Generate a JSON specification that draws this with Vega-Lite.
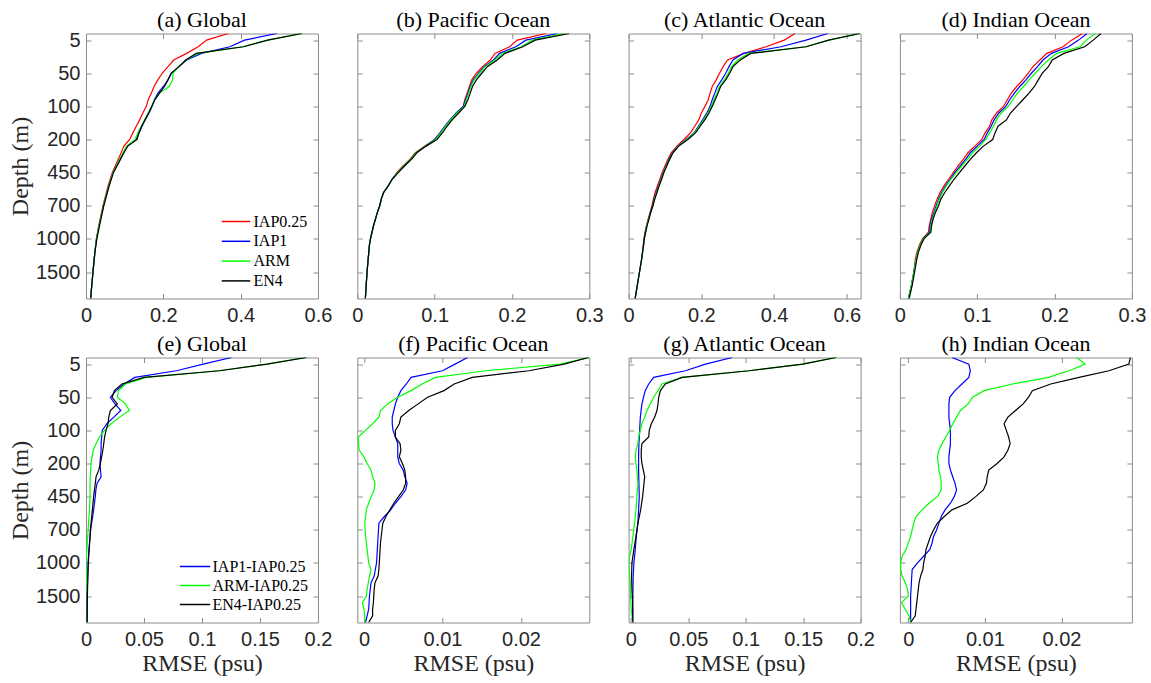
{
"$schema": "https://vega.github.io/schema/vega-lite/v6.json",
"background": "white",
"padding": {"left": 8, "top": 7.5, "right": 0, "bottom": 3},
"data": {"values": [
{"p":"a","s":"IAP0.25","l":1,"v":0.368},{"p":"a","s":"IAP0.25","l":2,"v":0.312},{"p":"a","s":"IAP0.25","l":3,"v":0.29},{"p":"a","s":"IAP0.25","l":4,"v":0.26},{"p":"a","s":"IAP0.25","l":5,"v":0.227},{"p":"a","s":"IAP0.25","l":6,"v":0.212},{"p":"a","s":"IAP0.25","l":7,"v":0.197},{"p":"a","s":"IAP0.25","l":8,"v":0.186},{"p":"a","s":"IAP0.25","l":9,"v":0.176},{"p":"a","s":"IAP0.25","l":10,"v":0.169},{"p":"a","s":"IAP0.25","l":11,"v":0.161},{"p":"a","s":"IAP0.25","l":12,"v":0.156},{"p":"a","s":"IAP0.25","l":13,"v":0.147},{"p":"a","s":"IAP0.25","l":14,"v":0.139},{"p":"a","s":"IAP0.25","l":15,"v":0.13},{"p":"a","s":"IAP0.25","l":16,"v":0.121},{"p":"a","s":"IAP0.25","l":17,"v":0.113},{"p":"a","s":"IAP0.25","l":18,"v":0.098},{"p":"a","s":"IAP0.25","l":19,"v":0.091},{"p":"a","s":"IAP0.25","l":20,"v":0.083},{"p":"a","s":"IAP0.25","l":22,"v":0.068},{"p":"a","s":"IAP0.25","l":24,"v":0.057},{"p":"a","s":"IAP0.25","l":27,"v":0.044},{"p":"a","s":"IAP0.25","l":30,"v":0.033},{"p":"a","s":"IAP0.25","l":32,"v":0.027},{"p":"a","s":"IAP0.25","l":34,"v":0.023},{"p":"a","s":"IAP0.25","l":37,"v":0.018},{"p":"a","s":"IAP0.25","l":39,"v":0.015},{"p":"a","s":"IAP0.25","l":41,"v":0.012},
{"p":"a","s":"IAP1","l":1,"v":0.494},{"p":"a","s":"IAP1","l":2,"v":0.41},{"p":"a","s":"IAP1","l":3,"v":0.372},{"p":"a","s":"IAP1","l":4,"v":0.299},{"p":"a","s":"IAP1","l":5,"v":0.26},{"p":"a","s":"IAP1","l":6,"v":0.241},{"p":"a","s":"IAP1","l":7,"v":0.221},{"p":"a","s":"IAP1","l":8,"v":0.212},{"p":"a","s":"IAP1","l":9,"v":0.2},{"p":"a","s":"IAP1","l":10,"v":0.186},{"p":"a","s":"IAP1","l":11,"v":0.177},{"p":"a","s":"IAP1","l":12,"v":0.171},{"p":"a","s":"IAP1","l":13,"v":0.163},{"p":"a","s":"IAP1","l":14,"v":0.153},{"p":"a","s":"IAP1","l":15,"v":0.145},{"p":"a","s":"IAP1","l":16,"v":0.137},{"p":"a","s":"IAP1","l":17,"v":0.13},{"p":"a","s":"IAP1","l":18,"v":0.107},{"p":"a","s":"IAP1","l":19,"v":0.097},{"p":"a","s":"IAP1","l":20,"v":0.088},{"p":"a","s":"IAP1","l":22,"v":0.07},{"p":"a","s":"IAP1","l":24,"v":0.059},{"p":"a","s":"IAP1","l":27,"v":0.045},{"p":"a","s":"IAP1","l":30,"v":0.034},{"p":"a","s":"IAP1","l":32,"v":0.027},{"p":"a","s":"IAP1","l":34,"v":0.023},{"p":"a","s":"IAP1","l":37,"v":0.018},{"p":"a","s":"IAP1","l":39,"v":0.015},{"p":"a","s":"IAP1","l":41,"v":0.012},
{"p":"a","s":"ARM","l":1,"v":0.558},{"p":"a","s":"ARM","l":2,"v":0.47},{"p":"a","s":"ARM","l":3,"v":0.405},{"p":"a","s":"ARM","l":4,"v":0.29},{"p":"a","s":"ARM","l":5,"v":0.258},{"p":"a","s":"ARM","l":6,"v":0.24},{"p":"a","s":"ARM","l":7,"v":0.225},{"p":"a","s":"ARM","l":8,"v":0.224},{"p":"a","s":"ARM","l":9,"v":0.215},{"p":"a","s":"ARM","l":10,"v":0.19},{"p":"a","s":"ARM","l":11,"v":0.178},{"p":"a","s":"ARM","l":12,"v":0.17},{"p":"a","s":"ARM","l":13,"v":0.161},{"p":"a","s":"ARM","l":14,"v":0.152},{"p":"a","s":"ARM","l":15,"v":0.143},{"p":"a","s":"ARM","l":16,"v":0.134},{"p":"a","s":"ARM","l":17,"v":0.127},{"p":"a","s":"ARM","l":18,"v":0.105},{"p":"a","s":"ARM","l":19,"v":0.096},{"p":"a","s":"ARM","l":20,"v":0.087},{"p":"a","s":"ARM","l":22,"v":0.07},{"p":"a","s":"ARM","l":24,"v":0.059},{"p":"a","s":"ARM","l":27,"v":0.045},{"p":"a","s":"ARM","l":30,"v":0.034},{"p":"a","s":"ARM","l":32,"v":0.027},{"p":"a","s":"ARM","l":34,"v":0.023},{"p":"a","s":"ARM","l":37,"v":0.018},{"p":"a","s":"ARM","l":39,"v":0.015},{"p":"a","s":"ARM","l":41,"v":0.012},
{"p":"a","s":"EN4","l":1,"v":0.558},{"p":"a","s":"EN4","l":2,"v":0.47},{"p":"a","s":"EN4","l":3,"v":0.407},{"p":"a","s":"EN4","l":4,"v":0.285},{"p":"a","s":"EN4","l":5,"v":0.258},{"p":"a","s":"EN4","l":6,"v":0.24},{"p":"a","s":"EN4","l":7,"v":0.22},{"p":"a","s":"EN4","l":8,"v":0.212},{"p":"a","s":"EN4","l":9,"v":0.203},{"p":"a","s":"EN4","l":10,"v":0.19},{"p":"a","s":"EN4","l":11,"v":0.178},{"p":"a","s":"EN4","l":12,"v":0.17},{"p":"a","s":"EN4","l":13,"v":0.162},{"p":"a","s":"EN4","l":14,"v":0.153},{"p":"a","s":"EN4","l":15,"v":0.144},{"p":"a","s":"EN4","l":16,"v":0.137},{"p":"a","s":"EN4","l":17,"v":0.132},{"p":"a","s":"EN4","l":18,"v":0.108},{"p":"a","s":"EN4","l":19,"v":0.098},{"p":"a","s":"EN4","l":20,"v":0.089},{"p":"a","s":"EN4","l":22,"v":0.071},{"p":"a","s":"EN4","l":24,"v":0.06},{"p":"a","s":"EN4","l":27,"v":0.046},{"p":"a","s":"EN4","l":30,"v":0.035},{"p":"a","s":"EN4","l":32,"v":0.028},{"p":"a","s":"EN4","l":34,"v":0.023},{"p":"a","s":"EN4","l":37,"v":0.018},{"p":"a","s":"EN4","l":39,"v":0.015},{"p":"a","s":"EN4","l":41,"v":0.012},

{"p":"b","s":"IAP0.25","l":1,"v":0.244},{"p":"b","s":"IAP0.25","l":2,"v":0.207},{"p":"b","s":"IAP0.25","l":3,"v":0.197},{"p":"b","s":"IAP0.25","l":4,"v":0.178},{"p":"b","s":"IAP0.25","l":5,"v":0.172},{"p":"b","s":"IAP0.25","l":6,"v":0.162},{"p":"b","s":"IAP0.25","l":7,"v":0.154},{"p":"b","s":"IAP0.25","l":8,"v":0.148},{"p":"b","s":"IAP0.25","l":9,"v":0.145},{"p":"b","s":"IAP0.25","l":10,"v":0.142},{"p":"b","s":"IAP0.25","l":11,"v":0.139},{"p":"b","s":"IAP0.25","l":12,"v":0.137},{"p":"b","s":"IAP0.25","l":13,"v":0.128},{"p":"b","s":"IAP0.25","l":14,"v":0.121},{"p":"b","s":"IAP0.25","l":15,"v":0.114},{"p":"b","s":"IAP0.25","l":16,"v":0.107},{"p":"b","s":"IAP0.25","l":17,"v":0.1},{"p":"b","s":"IAP0.25","l":18,"v":0.087},{"p":"b","s":"IAP0.25","l":19,"v":0.075},{"p":"b","s":"IAP0.25","l":20,"v":0.068},{"p":"b","s":"IAP0.25","l":21,"v":0.059},{"p":"b","s":"IAP0.25","l":22,"v":0.051},{"p":"b","s":"IAP0.25","l":23,"v":0.045},{"p":"b","s":"IAP0.25","l":24,"v":0.04},{"p":"b","s":"IAP0.25","l":25,"v":0.034},{"p":"b","s":"IAP0.25","l":26,"v":0.031},{"p":"b","s":"IAP0.25","l":27,"v":0.029},{"p":"b","s":"IAP0.25","l":28,"v":0.026},{"p":"b","s":"IAP0.25","l":30,"v":0.021},{"p":"b","s":"IAP0.25","l":32,"v":0.017},{"p":"b","s":"IAP0.25","l":33,"v":0.0156},{"p":"b","s":"IAP0.25","l":37,"v":0.0126},{"p":"b","s":"IAP0.25","l":41,"v":0.0104},
{"p":"b","s":"IAP1","l":1,"v":0.259},{"p":"b","s":"IAP1","l":2,"v":0.218},{"p":"b","s":"IAP1","l":3,"v":0.205},{"p":"b","s":"IAP1","l":4,"v":0.184},{"p":"b","s":"IAP1","l":5,"v":0.176},{"p":"b","s":"IAP1","l":6,"v":0.164},{"p":"b","s":"IAP1","l":7,"v":0.157},{"p":"b","s":"IAP1","l":8,"v":0.15},{"p":"b","s":"IAP1","l":9,"v":0.146},{"p":"b","s":"IAP1","l":10,"v":0.143},{"p":"b","s":"IAP1","l":11,"v":0.14},{"p":"b","s":"IAP1","l":12,"v":0.137},{"p":"b","s":"IAP1","l":13,"v":0.128},{"p":"b","s":"IAP1","l":14,"v":0.12},{"p":"b","s":"IAP1","l":15,"v":0.113},{"p":"b","s":"IAP1","l":16,"v":0.107},{"p":"b","s":"IAP1","l":17,"v":0.1},{"p":"b","s":"IAP1","l":18,"v":0.088},{"p":"b","s":"IAP1","l":19,"v":0.076},{"p":"b","s":"IAP1","l":20,"v":0.069},{"p":"b","s":"IAP1","l":21,"v":0.06},{"p":"b","s":"IAP1","l":22,"v":0.052},{"p":"b","s":"IAP1","l":23,"v":0.045},{"p":"b","s":"IAP1","l":24,"v":0.04},{"p":"b","s":"IAP1","l":25,"v":0.034},{"p":"b","s":"IAP1","l":26,"v":0.031},{"p":"b","s":"IAP1","l":27,"v":0.029},{"p":"b","s":"IAP1","l":28,"v":0.026},{"p":"b","s":"IAP1","l":30,"v":0.021},{"p":"b","s":"IAP1","l":32,"v":0.017},{"p":"b","s":"IAP1","l":33,"v":0.0156},{"p":"b","s":"IAP1","l":37,"v":0.0126},{"p":"b","s":"IAP1","l":41,"v":0.0104},
{"p":"b","s":"ARM","l":1,"v":0.268},{"p":"b","s":"ARM","l":2,"v":0.226},{"p":"b","s":"ARM","l":3,"v":0.212},{"p":"b","s":"ARM","l":4,"v":0.188},{"p":"b","s":"ARM","l":5,"v":0.178},{"p":"b","s":"ARM","l":6,"v":0.165},{"p":"b","s":"ARM","l":7,"v":0.158},{"p":"b","s":"ARM","l":8,"v":0.151},{"p":"b","s":"ARM","l":9,"v":0.147},{"p":"b","s":"ARM","l":10,"v":0.144},{"p":"b","s":"ARM","l":11,"v":0.141},{"p":"b","s":"ARM","l":12,"v":0.138},{"p":"b","s":"ARM","l":13,"v":0.129},{"p":"b","s":"ARM","l":14,"v":0.121},{"p":"b","s":"ARM","l":15,"v":0.114},{"p":"b","s":"ARM","l":16,"v":0.108},{"p":"b","s":"ARM","l":17,"v":0.101},{"p":"b","s":"ARM","l":18,"v":0.088},{"p":"b","s":"ARM","l":19,"v":0.076},{"p":"b","s":"ARM","l":20,"v":0.069},{"p":"b","s":"ARM","l":21,"v":0.06},{"p":"b","s":"ARM","l":22,"v":0.052},{"p":"b","s":"ARM","l":23,"v":0.045},{"p":"b","s":"ARM","l":24,"v":0.04},{"p":"b","s":"ARM","l":25,"v":0.034},{"p":"b","s":"ARM","l":26,"v":0.031},{"p":"b","s":"ARM","l":27,"v":0.029},{"p":"b","s":"ARM","l":28,"v":0.026},{"p":"b","s":"ARM","l":30,"v":0.021},{"p":"b","s":"ARM","l":32,"v":0.017},{"p":"b","s":"ARM","l":33,"v":0.0156},{"p":"b","s":"ARM","l":37,"v":0.0126},{"p":"b","s":"ARM","l":41,"v":0.0104},
{"p":"b","s":"EN4","l":1,"v":0.274},{"p":"b","s":"EN4","l":2,"v":0.23},{"p":"b","s":"EN4","l":3,"v":0.214},{"p":"b","s":"EN4","l":4,"v":0.191},{"p":"b","s":"EN4","l":5,"v":0.181},{"p":"b","s":"EN4","l":6,"v":0.168},{"p":"b","s":"EN4","l":7,"v":0.161},{"p":"b","s":"EN4","l":8,"v":0.154},{"p":"b","s":"EN4","l":9,"v":0.149},{"p":"b","s":"EN4","l":10,"v":0.146},{"p":"b","s":"EN4","l":11,"v":0.143},{"p":"b","s":"EN4","l":12,"v":0.139},{"p":"b","s":"EN4","l":13,"v":0.131},{"p":"b","s":"EN4","l":14,"v":0.123},{"p":"b","s":"EN4","l":15,"v":0.116},{"p":"b","s":"EN4","l":16,"v":0.11},{"p":"b","s":"EN4","l":17,"v":0.103},{"p":"b","s":"EN4","l":18,"v":0.089},{"p":"b","s":"EN4","l":19,"v":0.077},{"p":"b","s":"EN4","l":20,"v":0.07},{"p":"b","s":"EN4","l":21,"v":0.061},{"p":"b","s":"EN4","l":22,"v":0.053},{"p":"b","s":"EN4","l":23,"v":0.045},{"p":"b","s":"EN4","l":24,"v":0.04},{"p":"b","s":"EN4","l":25,"v":0.034},{"p":"b","s":"EN4","l":26,"v":0.031},{"p":"b","s":"EN4","l":27,"v":0.029},{"p":"b","s":"EN4","l":28,"v":0.026},{"p":"b","s":"EN4","l":30,"v":0.021},{"p":"b","s":"EN4","l":32,"v":0.017},{"p":"b","s":"EN4","l":33,"v":0.0156},{"p":"b","s":"EN4","l":37,"v":0.0126},{"p":"b","s":"EN4","l":41,"v":0.0104},

{"p":"c","s":"IAP0.25","l":1,"v":0.458},{"p":"c","s":"IAP0.25","l":2,"v":0.428},{"p":"c","s":"IAP0.25","l":3,"v":0.378},{"p":"c","s":"IAP0.25","l":4,"v":0.318},{"p":"c","s":"IAP0.25","l":5,"v":0.272},{"p":"c","s":"IAP0.25","l":6,"v":0.26},{"p":"c","s":"IAP0.25","l":7,"v":0.25},{"p":"c","s":"IAP0.25","l":8,"v":0.241},{"p":"c","s":"IAP0.25","l":9,"v":0.23},{"p":"c","s":"IAP0.25","l":10,"v":0.224},{"p":"c","s":"IAP0.25","l":11,"v":0.219},{"p":"c","s":"IAP0.25","l":12,"v":0.21},{"p":"c","s":"IAP0.25","l":13,"v":0.2},{"p":"c","s":"IAP0.25","l":14,"v":0.193},{"p":"c","s":"IAP0.25","l":15,"v":0.182},{"p":"c","s":"IAP0.25","l":16,"v":0.17},{"p":"c","s":"IAP0.25","l":17,"v":0.152},{"p":"c","s":"IAP0.25","l":18,"v":0.133},{"p":"c","s":"IAP0.25","l":19,"v":0.117},{"p":"c","s":"IAP0.25","l":20,"v":0.108},{"p":"c","s":"IAP0.25","l":21,"v":0.1},{"p":"c","s":"IAP0.25","l":22,"v":0.092},{"p":"c","s":"IAP0.25","l":23,"v":0.086},{"p":"c","s":"IAP0.25","l":24,"v":0.079},{"p":"c","s":"IAP0.25","l":25,"v":0.073},{"p":"c","s":"IAP0.25","l":26,"v":0.068},{"p":"c","s":"IAP0.25","l":27,"v":0.064},{"p":"c","s":"IAP0.25","l":28,"v":0.059},{"p":"c","s":"IAP0.25","l":29,"v":0.054},{"p":"c","s":"IAP0.25","l":30,"v":0.049},{"p":"c","s":"IAP0.25","l":31,"v":0.045},{"p":"c","s":"IAP0.25","l":32,"v":0.042},{"p":"c","s":"IAP0.25","l":33,"v":0.04},{"p":"c","s":"IAP0.25","l":35,"v":0.036},{"p":"c","s":"IAP0.25","l":37,"v":0.03},{"p":"c","s":"IAP0.25","l":39,"v":0.024},{"p":"c","s":"IAP0.25","l":41,"v":0.018},
{"p":"c","s":"IAP1","l":1,"v":0.548},{"p":"c","s":"IAP1","l":2,"v":0.488},{"p":"c","s":"IAP1","l":3,"v":0.419},{"p":"c","s":"IAP1","l":4,"v":0.315},{"p":"c","s":"IAP1","l":5,"v":0.287},{"p":"c","s":"IAP1","l":6,"v":0.276},{"p":"c","s":"IAP1","l":7,"v":0.267},{"p":"c","s":"IAP1","l":8,"v":0.256},{"p":"c","s":"IAP1","l":9,"v":0.244},{"p":"c","s":"IAP1","l":10,"v":0.237},{"p":"c","s":"IAP1","l":11,"v":0.23},{"p":"c","s":"IAP1","l":12,"v":0.224},{"p":"c","s":"IAP1","l":13,"v":0.215},{"p":"c","s":"IAP1","l":14,"v":0.204},{"p":"c","s":"IAP1","l":15,"v":0.192},{"p":"c","s":"IAP1","l":16,"v":0.18},{"p":"c","s":"IAP1","l":17,"v":0.158},{"p":"c","s":"IAP1","l":18,"v":0.136},{"p":"c","s":"IAP1","l":19,"v":0.12},{"p":"c","s":"IAP1","l":20,"v":0.111},{"p":"c","s":"IAP1","l":21,"v":0.103},{"p":"c","s":"IAP1","l":22,"v":0.095},{"p":"c","s":"IAP1","l":23,"v":0.089},{"p":"c","s":"IAP1","l":24,"v":0.082},{"p":"c","s":"IAP1","l":25,"v":0.076},{"p":"c","s":"IAP1","l":26,"v":0.07},{"p":"c","s":"IAP1","l":27,"v":0.066},{"p":"c","s":"IAP1","l":28,"v":0.06},{"p":"c","s":"IAP1","l":29,"v":0.055},{"p":"c","s":"IAP1","l":30,"v":0.05},{"p":"c","s":"IAP1","l":31,"v":0.046},{"p":"c","s":"IAP1","l":32,"v":0.043},{"p":"c","s":"IAP1","l":33,"v":0.041},{"p":"c","s":"IAP1","l":35,"v":0.036},{"p":"c","s":"IAP1","l":37,"v":0.03},{"p":"c","s":"IAP1","l":39,"v":0.024},{"p":"c","s":"IAP1","l":41,"v":0.018},
{"p":"c","s":"ARM","l":1,"v":0.636},{"p":"c","s":"ARM","l":2,"v":0.55},{"p":"c","s":"ARM","l":3,"v":0.488},{"p":"c","s":"ARM","l":4,"v":0.33},{"p":"c","s":"ARM","l":5,"v":0.3},{"p":"c","s":"ARM","l":6,"v":0.283},{"p":"c","s":"ARM","l":7,"v":0.274},{"p":"c","s":"ARM","l":8,"v":0.263},{"p":"c","s":"ARM","l":9,"v":0.25},{"p":"c","s":"ARM","l":10,"v":0.243},{"p":"c","s":"ARM","l":11,"v":0.235},{"p":"c","s":"ARM","l":12,"v":0.227},{"p":"c","s":"ARM","l":13,"v":0.218},{"p":"c","s":"ARM","l":14,"v":0.207},{"p":"c","s":"ARM","l":15,"v":0.194},{"p":"c","s":"ARM","l":16,"v":0.181},{"p":"c","s":"ARM","l":17,"v":0.16},{"p":"c","s":"ARM","l":18,"v":0.137},{"p":"c","s":"ARM","l":19,"v":0.121},{"p":"c","s":"ARM","l":20,"v":0.112},{"p":"c","s":"ARM","l":21,"v":0.104},{"p":"c","s":"ARM","l":22,"v":0.096},{"p":"c","s":"ARM","l":23,"v":0.09},{"p":"c","s":"ARM","l":24,"v":0.083},{"p":"c","s":"ARM","l":25,"v":0.077},{"p":"c","s":"ARM","l":26,"v":0.071},{"p":"c","s":"ARM","l":27,"v":0.067},{"p":"c","s":"ARM","l":28,"v":0.061},{"p":"c","s":"ARM","l":29,"v":0.055},{"p":"c","s":"ARM","l":30,"v":0.05},{"p":"c","s":"ARM","l":31,"v":0.046},{"p":"c","s":"ARM","l":32,"v":0.043},{"p":"c","s":"ARM","l":33,"v":0.041},{"p":"c","s":"ARM","l":35,"v":0.036},{"p":"c","s":"ARM","l":37,"v":0.03},{"p":"c","s":"ARM","l":39,"v":0.024},{"p":"c","s":"ARM","l":41,"v":0.018},
{"p":"c","s":"EN4","l":1,"v":0.636},{"p":"c","s":"EN4","l":2,"v":0.55},{"p":"c","s":"EN4","l":3,"v":0.488},{"p":"c","s":"EN4","l":4,"v":0.336},{"p":"c","s":"EN4","l":5,"v":0.307},{"p":"c","s":"EN4","l":6,"v":0.287},{"p":"c","s":"EN4","l":7,"v":0.278},{"p":"c","s":"EN4","l":8,"v":0.267},{"p":"c","s":"EN4","l":9,"v":0.253},{"p":"c","s":"EN4","l":10,"v":0.246},{"p":"c","s":"EN4","l":11,"v":0.238},{"p":"c","s":"EN4","l":12,"v":0.23},{"p":"c","s":"EN4","l":13,"v":0.221},{"p":"c","s":"EN4","l":14,"v":0.21},{"p":"c","s":"EN4","l":15,"v":0.197},{"p":"c","s":"EN4","l":16,"v":0.184},{"p":"c","s":"EN4","l":17,"v":0.163},{"p":"c","s":"EN4","l":18,"v":0.138},{"p":"c","s":"EN4","l":19,"v":0.122},{"p":"c","s":"EN4","l":20,"v":0.113},{"p":"c","s":"EN4","l":21,"v":0.105},{"p":"c","s":"EN4","l":22,"v":0.097},{"p":"c","s":"EN4","l":23,"v":0.091},{"p":"c","s":"EN4","l":24,"v":0.084},{"p":"c","s":"EN4","l":25,"v":0.078},{"p":"c","s":"EN4","l":26,"v":0.072},{"p":"c","s":"EN4","l":27,"v":0.067},{"p":"c","s":"EN4","l":28,"v":0.061},{"p":"c","s":"EN4","l":29,"v":0.056},{"p":"c","s":"EN4","l":30,"v":0.051},{"p":"c","s":"EN4","l":31,"v":0.047},{"p":"c","s":"EN4","l":32,"v":0.043},{"p":"c","s":"EN4","l":33,"v":0.041},{"p":"c","s":"EN4","l":35,"v":0.036},{"p":"c","s":"EN4","l":37,"v":0.03},{"p":"c","s":"EN4","l":39,"v":0.024},{"p":"c","s":"EN4","l":41,"v":0.018},

{"p":"d","s":"IAP0.25","l":1,"v":0.236},{"p":"d","s":"IAP0.25","l":2,"v":0.222},{"p":"d","s":"IAP0.25","l":3,"v":0.211},{"p":"d","s":"IAP0.25","l":4,"v":0.19},{"p":"d","s":"IAP0.25","l":5,"v":0.181},{"p":"d","s":"IAP0.25","l":6,"v":0.172},{"p":"d","s":"IAP0.25","l":7,"v":0.166},{"p":"d","s":"IAP0.25","l":8,"v":0.159},{"p":"d","s":"IAP0.25","l":9,"v":0.151},{"p":"d","s":"IAP0.25","l":10,"v":0.144},{"p":"d","s":"IAP0.25","l":11,"v":0.139},{"p":"d","s":"IAP0.25","l":12,"v":0.134},{"p":"d","s":"IAP0.25","l":13,"v":0.125},{"p":"d","s":"IAP0.25","l":14,"v":0.119},{"p":"d","s":"IAP0.25","l":15,"v":0.116},{"p":"d","s":"IAP0.25","l":16,"v":0.11},{"p":"d","s":"IAP0.25","l":17,"v":0.106},{"p":"d","s":"IAP0.25","l":18,"v":0.097},{"p":"d","s":"IAP0.25","l":19,"v":0.088},{"p":"d","s":"IAP0.25","l":20,"v":0.082},{"p":"d","s":"IAP0.25","l":21,"v":0.075},{"p":"d","s":"IAP0.25","l":22,"v":0.069},{"p":"d","s":"IAP0.25","l":23,"v":0.063},{"p":"d","s":"IAP0.25","l":24,"v":0.057},{"p":"d","s":"IAP0.25","l":25,"v":0.052},{"p":"d","s":"IAP0.25","l":26,"v":0.048},{"p":"d","s":"IAP0.25","l":27,"v":0.045},{"p":"d","s":"IAP0.25","l":28,"v":0.042},{"p":"d","s":"IAP0.25","l":29,"v":0.04},{"p":"d","s":"IAP0.25","l":30,"v":0.038},{"p":"d","s":"IAP0.25","l":31,"v":0.037},{"p":"d","s":"IAP0.25","l":32,"v":0.029},{"p":"d","s":"IAP0.25","l":33,"v":0.025},{"p":"d","s":"IAP0.25","l":34,"v":0.022},{"p":"d","s":"IAP0.25","l":35,"v":0.02},{"p":"d","s":"IAP0.25","l":37,"v":0.018},{"p":"d","s":"IAP0.25","l":39,"v":0.015},{"p":"d","s":"IAP0.25","l":40,"v":0.013},{"p":"d","s":"IAP0.25","l":41,"v":0.011},
{"p":"d","s":"IAP1","l":1,"v":0.242},{"p":"d","s":"IAP1","l":2,"v":0.231},{"p":"d","s":"IAP1","l":3,"v":0.218},{"p":"d","s":"IAP1","l":4,"v":0.196},{"p":"d","s":"IAP1","l":5,"v":0.185},{"p":"d","s":"IAP1","l":6,"v":0.178},{"p":"d","s":"IAP1","l":7,"v":0.17},{"p":"d","s":"IAP1","l":8,"v":0.163},{"p":"d","s":"IAP1","l":9,"v":0.155},{"p":"d","s":"IAP1","l":10,"v":0.148},{"p":"d","s":"IAP1","l":11,"v":0.142},{"p":"d","s":"IAP1","l":12,"v":0.137},{"p":"d","s":"IAP1","l":13,"v":0.128},{"p":"d","s":"IAP1","l":14,"v":0.122},{"p":"d","s":"IAP1","l":15,"v":0.118},{"p":"d","s":"IAP1","l":16,"v":0.113},{"p":"d","s":"IAP1","l":17,"v":0.109},{"p":"d","s":"IAP1","l":18,"v":0.1},{"p":"d","s":"IAP1","l":19,"v":0.091},{"p":"d","s":"IAP1","l":20,"v":0.085},{"p":"d","s":"IAP1","l":21,"v":0.078},{"p":"d","s":"IAP1","l":22,"v":0.071},{"p":"d","s":"IAP1","l":23,"v":0.065},{"p":"d","s":"IAP1","l":24,"v":0.059},{"p":"d","s":"IAP1","l":25,"v":0.054},{"p":"d","s":"IAP1","l":26,"v":0.05},{"p":"d","s":"IAP1","l":27,"v":0.047},{"p":"d","s":"IAP1","l":28,"v":0.044},{"p":"d","s":"IAP1","l":29,"v":0.041},{"p":"d","s":"IAP1","l":30,"v":0.039},{"p":"d","s":"IAP1","l":31,"v":0.038},{"p":"d","s":"IAP1","l":32,"v":0.03},{"p":"d","s":"IAP1","l":33,"v":0.026},{"p":"d","s":"IAP1","l":34,"v":0.023},{"p":"d","s":"IAP1","l":35,"v":0.021},{"p":"d","s":"IAP1","l":37,"v":0.018},{"p":"d","s":"IAP1","l":39,"v":0.015},{"p":"d","s":"IAP1","l":40,"v":0.013},{"p":"d","s":"IAP1","l":41,"v":0.011},
{"p":"d","s":"ARM","l":1,"v":0.253},{"p":"d","s":"ARM","l":2,"v":0.241},{"p":"d","s":"ARM","l":3,"v":0.233},{"p":"d","s":"ARM","l":4,"v":0.203},{"p":"d","s":"ARM","l":5,"v":0.192},{"p":"d","s":"ARM","l":6,"v":0.183},{"p":"d","s":"ARM","l":7,"v":0.175},{"p":"d","s":"ARM","l":8,"v":0.167},{"p":"d","s":"ARM","l":9,"v":0.16},{"p":"d","s":"ARM","l":10,"v":0.152},{"p":"d","s":"ARM","l":11,"v":0.146},{"p":"d","s":"ARM","l":12,"v":0.14},{"p":"d","s":"ARM","l":13,"v":0.131},{"p":"d","s":"ARM","l":14,"v":0.125},{"p":"d","s":"ARM","l":15,"v":0.121},{"p":"d","s":"ARM","l":16,"v":0.116},{"p":"d","s":"ARM","l":17,"v":0.111},{"p":"d","s":"ARM","l":18,"v":0.103},{"p":"d","s":"ARM","l":19,"v":0.094},{"p":"d","s":"ARM","l":20,"v":0.087},{"p":"d","s":"ARM","l":21,"v":0.08},{"p":"d","s":"ARM","l":22,"v":0.073},{"p":"d","s":"ARM","l":23,"v":0.066},{"p":"d","s":"ARM","l":24,"v":0.06},{"p":"d","s":"ARM","l":25,"v":0.055},{"p":"d","s":"ARM","l":26,"v":0.051},{"p":"d","s":"ARM","l":27,"v":0.048},{"p":"d","s":"ARM","l":28,"v":0.045},{"p":"d","s":"ARM","l":29,"v":0.042},{"p":"d","s":"ARM","l":30,"v":0.04},{"p":"d","s":"ARM","l":31,"v":0.039},{"p":"d","s":"ARM","l":32,"v":0.03},{"p":"d","s":"ARM","l":33,"v":0.026},{"p":"d","s":"ARM","l":34,"v":0.023},{"p":"d","s":"ARM","l":35,"v":0.021},{"p":"d","s":"ARM","l":37,"v":0.018},{"p":"d","s":"ARM","l":39,"v":0.015},{"p":"d","s":"ARM","l":40,"v":0.013},{"p":"d","s":"ARM","l":41,"v":0.011},
{"p":"d","s":"EN4","l":1,"v":0.26},{"p":"d","s":"EN4","l":2,"v":0.25},{"p":"d","s":"EN4","l":3,"v":0.239},{"p":"d","s":"EN4","l":4,"v":0.212},{"p":"d","s":"EN4","l":5,"v":0.197},{"p":"d","s":"EN4","l":6,"v":0.192},{"p":"d","s":"EN4","l":7,"v":0.184},{"p":"d","s":"EN4","l":8,"v":0.179},{"p":"d","s":"EN4","l":9,"v":0.174},{"p":"d","s":"EN4","l":10,"v":0.167},{"p":"d","s":"EN4","l":11,"v":0.159},{"p":"d","s":"EN4","l":12,"v":0.151},{"p":"d","s":"EN4","l":13,"v":0.143},{"p":"d","s":"EN4","l":14,"v":0.138},{"p":"d","s":"EN4","l":15,"v":0.127},{"p":"d","s":"EN4","l":16,"v":0.123},{"p":"d","s":"EN4","l":17,"v":0.12},{"p":"d","s":"EN4","l":18,"v":0.108},{"p":"d","s":"EN4","l":19,"v":0.099},{"p":"d","s":"EN4","l":20,"v":0.091},{"p":"d","s":"EN4","l":21,"v":0.084},{"p":"d","s":"EN4","l":22,"v":0.077},{"p":"d","s":"EN4","l":23,"v":0.07},{"p":"d","s":"EN4","l":24,"v":0.064},{"p":"d","s":"EN4","l":25,"v":0.058},{"p":"d","s":"EN4","l":26,"v":0.053},{"p":"d","s":"EN4","l":27,"v":0.05},{"p":"d","s":"EN4","l":28,"v":0.046},{"p":"d","s":"EN4","l":29,"v":0.043},{"p":"d","s":"EN4","l":30,"v":0.041},{"p":"d","s":"EN4","l":31,"v":0.04},{"p":"d","s":"EN4","l":32,"v":0.031},{"p":"d","s":"EN4","l":33,"v":0.027},{"p":"d","s":"EN4","l":34,"v":0.024},{"p":"d","s":"EN4","l":35,"v":0.022},{"p":"d","s":"EN4","l":37,"v":0.019},{"p":"d","s":"EN4","l":39,"v":0.016},{"p":"d","s":"EN4","l":40,"v":0.014},{"p":"d","s":"EN4","l":41,"v":0.012},

{"p":"e","s":"IAP1-IAP0.25","l":1,"v":0.1255},{"p":"e","s":"IAP1-IAP0.25","l":2,"v":0.101},{"p":"e","s":"IAP1-IAP0.25","l":3,"v":0.078},{"p":"e","s":"IAP1-IAP0.25","l":4,"v":0.042},{"p":"e","s":"IAP1-IAP0.25","l":5,"v":0.033},{"p":"e","s":"IAP1-IAP0.25","l":6,"v":0.026},{"p":"e","s":"IAP1-IAP0.25","l":7,"v":0.021},{"p":"e","s":"IAP1-IAP0.25","l":8,"v":0.025},{"p":"e","s":"IAP1-IAP0.25","l":9,"v":0.03},{"p":"e","s":"IAP1-IAP0.25","l":10,"v":0.024},{"p":"e","s":"IAP1-IAP0.25","l":11,"v":0.018},{"p":"e","s":"IAP1-IAP0.25","l":12,"v":0.014},{"p":"e","s":"IAP1-IAP0.25","l":13,"v":0.0135},{"p":"e","s":"IAP1-IAP0.25","l":14,"v":0.013},{"p":"e","s":"IAP1-IAP0.25","l":15,"v":0.013},{"p":"e","s":"IAP1-IAP0.25","l":16,"v":0.0125},{"p":"e","s":"IAP1-IAP0.25","l":17,"v":0.012},{"p":"e","s":"IAP1-IAP0.25","l":18,"v":0.0125},{"p":"e","s":"IAP1-IAP0.25","l":19,"v":0.013},{"p":"e","s":"IAP1-IAP0.25","l":20,"v":0.0095},{"p":"e","s":"IAP1-IAP0.25","l":21,"v":0.0085},{"p":"e","s":"IAP1-IAP0.25","l":22,"v":0.008},{"p":"e","s":"IAP1-IAP0.25","l":24,"v":0.0066},{"p":"e","s":"IAP1-IAP0.25","l":27,"v":0.004},{"p":"e","s":"IAP1-IAP0.25","l":30,"v":0.0025},{"p":"e","s":"IAP1-IAP0.25","l":32,"v":0.0018},{"p":"e","s":"IAP1-IAP0.25","l":35,"v":0.0013},{"p":"e","s":"IAP1-IAP0.25","l":37,"v":0.001},{"p":"e","s":"IAP1-IAP0.25","l":41,"v":0.0008},
{"p":"e","s":"ARM-IAP0.25","l":1,"v":0.19},{"p":"e","s":"ARM-IAP0.25","l":2,"v":0.156},{"p":"e","s":"ARM-IAP0.25","l":3,"v":0.115},{"p":"e","s":"ARM-IAP0.25","l":4,"v":0.052},{"p":"e","s":"ARM-IAP0.25","l":5,"v":0.034},{"p":"e","s":"ARM-IAP0.25","l":6,"v":0.028},{"p":"e","s":"ARM-IAP0.25","l":7,"v":0.027},{"p":"e","s":"ARM-IAP0.25","l":8,"v":0.034},{"p":"e","s":"ARM-IAP0.25","l":9,"v":0.0375},{"p":"e","s":"ARM-IAP0.25","l":10,"v":0.029},{"p":"e","s":"ARM-IAP0.25","l":11,"v":0.0216},{"p":"e","s":"ARM-IAP0.25","l":12,"v":0.016},{"p":"e","s":"ARM-IAP0.25","l":13,"v":0.0115},{"p":"e","s":"ARM-IAP0.25","l":14,"v":0.0087},{"p":"e","s":"ARM-IAP0.25","l":15,"v":0.0063},{"p":"e","s":"ARM-IAP0.25","l":16,"v":0.0052},{"p":"e","s":"ARM-IAP0.25","l":17,"v":0.0043},{"p":"e","s":"ARM-IAP0.25","l":18,"v":0.004},{"p":"e","s":"ARM-IAP0.25","l":19,"v":0.0037},{"p":"e","s":"ARM-IAP0.25","l":20,"v":0.0035},{"p":"e","s":"ARM-IAP0.25","l":22,"v":0.0035},{"p":"e","s":"ARM-IAP0.25","l":24,"v":0.003},{"p":"e","s":"ARM-IAP0.25","l":27,"v":0.0018},{"p":"e","s":"ARM-IAP0.25","l":30,"v":0.0008},{"p":"e","s":"ARM-IAP0.25","l":31,"v":0.0002},{"p":"e","s":"ARM-IAP0.25","l":32,"v":0.0},{"p":"e","s":"ARM-IAP0.25","l":33,"v":0.0003},{"p":"e","s":"ARM-IAP0.25","l":35,"v":0.0007},{"p":"e","s":"ARM-IAP0.25","l":37,"v":0.0012},{"p":"e","s":"ARM-IAP0.25","l":39,"v":0.0012},{"p":"e","s":"ARM-IAP0.25","l":41,"v":0.001},
{"p":"e","s":"EN4-IAP0.25","l":1,"v":0.19},{"p":"e","s":"EN4-IAP0.25","l":2,"v":0.156},{"p":"e","s":"EN4-IAP0.25","l":3,"v":0.115},{"p":"e","s":"EN4-IAP0.25","l":4,"v":0.05},{"p":"e","s":"EN4-IAP0.25","l":5,"v":0.031},{"p":"e","s":"EN4-IAP0.25","l":6,"v":0.0245},{"p":"e","s":"EN4-IAP0.25","l":7,"v":0.0225},{"p":"e","s":"EN4-IAP0.25","l":8,"v":0.027},{"p":"e","s":"EN4-IAP0.25","l":9,"v":0.021},{"p":"e","s":"EN4-IAP0.25","l":10,"v":0.0196},{"p":"e","s":"EN4-IAP0.25","l":11,"v":0.019},{"p":"e","s":"EN4-IAP0.25","l":12,"v":0.0173},{"p":"e","s":"EN4-IAP0.25","l":13,"v":0.016},{"p":"e","s":"EN4-IAP0.25","l":14,"v":0.0153},{"p":"e","s":"EN4-IAP0.25","l":15,"v":0.0145},{"p":"e","s":"EN4-IAP0.25","l":16,"v":0.0135},{"p":"e","s":"EN4-IAP0.25","l":17,"v":0.0124},{"p":"e","s":"EN4-IAP0.25","l":18,"v":0.011},{"p":"e","s":"EN4-IAP0.25","l":19,"v":0.0087},{"p":"e","s":"EN4-IAP0.25","l":20,"v":0.008},{"p":"e","s":"EN4-IAP0.25","l":22,"v":0.0066},{"p":"e","s":"EN4-IAP0.25","l":24,"v":0.0055},{"p":"e","s":"EN4-IAP0.25","l":27,"v":0.0038},{"p":"e","s":"EN4-IAP0.25","l":30,"v":0.0028},{"p":"e","s":"EN4-IAP0.25","l":31,"v":0.0023},{"p":"e","s":"EN4-IAP0.25","l":34,"v":0.0016},{"p":"e","s":"EN4-IAP0.25","l":37,"v":0.0012},{"p":"e","s":"EN4-IAP0.25","l":41,"v":0.001},

{"p":"f","s":"IAP1-IAP0.25","l":1,"v":0.0132},{"p":"f","s":"IAP1-IAP0.25","l":2,"v":0.0116},{"p":"f","s":"IAP1-IAP0.25","l":3,"v":0.01},{"p":"f","s":"IAP1-IAP0.25","l":4,"v":0.006},{"p":"f","s":"IAP1-IAP0.25","l":5,"v":0.0054},{"p":"f","s":"IAP1-IAP0.25","l":6,"v":0.0047},{"p":"f","s":"IAP1-IAP0.25","l":7,"v":0.0043},{"p":"f","s":"IAP1-IAP0.25","l":8,"v":0.004},{"p":"f","s":"IAP1-IAP0.25","l":9,"v":0.0038},{"p":"f","s":"IAP1-IAP0.25","l":10,"v":0.0036},{"p":"f","s":"IAP1-IAP0.25","l":11,"v":0.0036},{"p":"f","s":"IAP1-IAP0.25","l":12,"v":0.0037},{"p":"f","s":"IAP1-IAP0.25","l":13,"v":0.004},{"p":"f","s":"IAP1-IAP0.25","l":14,"v":0.0043},{"p":"f","s":"IAP1-IAP0.25","l":15,"v":0.0043},{"p":"f","s":"IAP1-IAP0.25","l":16,"v":0.0043},{"p":"f","s":"IAP1-IAP0.25","l":17,"v":0.0045},{"p":"f","s":"IAP1-IAP0.25","l":18,"v":0.005},{"p":"f","s":"IAP1-IAP0.25","l":19,"v":0.0052},{"p":"f","s":"IAP1-IAP0.25","l":20,"v":0.0055},{"p":"f","s":"IAP1-IAP0.25","l":21,"v":0.0053},{"p":"f","s":"IAP1-IAP0.25","l":22,"v":0.0047},{"p":"f","s":"IAP1-IAP0.25","l":23,"v":0.004},{"p":"f","s":"IAP1-IAP0.25","l":24,"v":0.0034},{"p":"f","s":"IAP1-IAP0.25","l":25,"v":0.0026},{"p":"f","s":"IAP1-IAP0.25","l":26,"v":0.0019},{"p":"f","s":"IAP1-IAP0.25","l":28,"v":0.0018},{"p":"f","s":"IAP1-IAP0.25","l":30,"v":0.0017},{"p":"f","s":"IAP1-IAP0.25","l":32,"v":0.0016},{"p":"f","s":"IAP1-IAP0.25","l":34,"v":0.0013},{"p":"f","s":"IAP1-IAP0.25","l":35,"v":0.0009},{"p":"f","s":"IAP1-IAP0.25","l":37,"v":0.0007},{"p":"f","s":"IAP1-IAP0.25","l":39,"v":0.0006},{"p":"f","s":"IAP1-IAP0.25","l":41,"v":0.0002},
{"p":"f","s":"ARM-IAP0.25","l":1,"v":0.0287},{"p":"f","s":"ARM-IAP0.25","l":2,"v":0.025},{"p":"f","s":"ARM-IAP0.25","l":3,"v":0.0155},{"p":"f","s":"ARM-IAP0.25","l":4,"v":0.0091},{"p":"f","s":"ARM-IAP0.25","l":5,"v":0.0074},{"p":"f","s":"ARM-IAP0.25","l":6,"v":0.006},{"p":"f","s":"ARM-IAP0.25","l":7,"v":0.0043},{"p":"f","s":"ARM-IAP0.25","l":8,"v":0.003},{"p":"f","s":"ARM-IAP0.25","l":9,"v":0.0021},{"p":"f","s":"ARM-IAP0.25","l":10,"v":0.0019},{"p":"f","s":"ARM-IAP0.25","l":11,"v":0.0011},{"p":"f","s":"ARM-IAP0.25","l":12,"v":0.0002},{"p":"f","s":"ARM-IAP0.25","l":13,"v":-0.0007},{"p":"f","s":"ARM-IAP0.25","l":14,"v":-0.0007},{"p":"f","s":"ARM-IAP0.25","l":15,"v":-0.0006},{"p":"f","s":"ARM-IAP0.25","l":16,"v":0.0},{"p":"f","s":"ARM-IAP0.25","l":17,"v":0.0004},{"p":"f","s":"ARM-IAP0.25","l":18,"v":0.0009},{"p":"f","s":"ARM-IAP0.25","l":19,"v":0.0011},{"p":"f","s":"ARM-IAP0.25","l":20,"v":0.0014},{"p":"f","s":"ARM-IAP0.25","l":21,"v":0.0013},{"p":"f","s":"ARM-IAP0.25","l":22,"v":0.0009},{"p":"f","s":"ARM-IAP0.25","l":23,"v":0.0006},{"p":"f","s":"ARM-IAP0.25","l":24,"v":0.0003},{"p":"f","s":"ARM-IAP0.25","l":26,"v":0.0001},{"p":"f","s":"ARM-IAP0.25","l":28,"v":0.0002},{"p":"f","s":"ARM-IAP0.25","l":30,"v":0.0004},{"p":"f","s":"ARM-IAP0.25","l":32,"v":0.0006},{"p":"f","s":"ARM-IAP0.25","l":33,"v":0.0009},{"p":"f","s":"ARM-IAP0.25","l":34,"v":0.0007},{"p":"f","s":"ARM-IAP0.25","l":36,"v":0.0004},{"p":"f","s":"ARM-IAP0.25","l":37,"v":0.0003},{"p":"f","s":"ARM-IAP0.25","l":38,"v":-0.0002},{"p":"f","s":"ARM-IAP0.25","l":39,"v":0.0},{"p":"f","s":"ARM-IAP0.25","l":40,"v":0.0001},{"p":"f","s":"ARM-IAP0.25","l":41,"v":0.0001},
{"p":"f","s":"EN4-IAP0.25","l":1,"v":0.0286},{"p":"f","s":"EN4-IAP0.25","l":2,"v":0.0255},{"p":"f","s":"EN4-IAP0.25","l":3,"v":0.021},{"p":"f","s":"EN4-IAP0.25","l":4,"v":0.0138},{"p":"f","s":"EN4-IAP0.25","l":5,"v":0.0115},{"p":"f","s":"EN4-IAP0.25","l":6,"v":0.0102},{"p":"f","s":"EN4-IAP0.25","l":7,"v":0.0081},{"p":"f","s":"EN4-IAP0.25","l":8,"v":0.0069},{"p":"f","s":"EN4-IAP0.25","l":9,"v":0.0057},{"p":"f","s":"EN4-IAP0.25","l":10,"v":0.0047},{"p":"f","s":"EN4-IAP0.25","l":11,"v":0.0045},{"p":"f","s":"EN4-IAP0.25","l":12,"v":0.004},{"p":"f","s":"EN4-IAP0.25","l":13,"v":0.004},{"p":"f","s":"EN4-IAP0.25","l":14,"v":0.0046},{"p":"f","s":"EN4-IAP0.25","l":15,"v":0.0047},{"p":"f","s":"EN4-IAP0.25","l":16,"v":0.0045},{"p":"f","s":"EN4-IAP0.25","l":17,"v":0.0049},{"p":"f","s":"EN4-IAP0.25","l":18,"v":0.0052},{"p":"f","s":"EN4-IAP0.25","l":19,"v":0.0053},{"p":"f","s":"EN4-IAP0.25","l":20,"v":0.0053},{"p":"f","s":"EN4-IAP0.25","l":21,"v":0.005},{"p":"f","s":"EN4-IAP0.25","l":22,"v":0.0044},{"p":"f","s":"EN4-IAP0.25","l":23,"v":0.0038},{"p":"f","s":"EN4-IAP0.25","l":24,"v":0.0033},{"p":"f","s":"EN4-IAP0.25","l":25,"v":0.0028},{"p":"f","s":"EN4-IAP0.25","l":26,"v":0.0024},{"p":"f","s":"EN4-IAP0.25","l":27,"v":0.0023},{"p":"f","s":"EN4-IAP0.25","l":29,"v":0.0021},{"p":"f","s":"EN4-IAP0.25","l":31,"v":0.002},{"p":"f","s":"EN4-IAP0.25","l":33,"v":0.0019},{"p":"f","s":"EN4-IAP0.25","l":34,"v":0.0018},{"p":"f","s":"EN4-IAP0.25","l":35,"v":0.0014},{"p":"f","s":"EN4-IAP0.25","l":36,"v":0.0013},{"p":"f","s":"EN4-IAP0.25","l":38,"v":0.0012},{"p":"f","s":"EN4-IAP0.25","l":39,"v":0.0011},{"p":"f","s":"EN4-IAP0.25","l":40,"v":0.0011},{"p":"f","s":"EN4-IAP0.25","l":41,"v":0.0006},

{"p":"g","s":"IAP1-IAP0.25","l":1,"v":0.0883},{"p":"g","s":"IAP1-IAP0.25","l":2,"v":0.065},{"p":"g","s":"IAP1-IAP0.25","l":3,"v":0.0475},{"p":"g","s":"IAP1-IAP0.25","l":4,"v":0.0198},{"p":"g","s":"IAP1-IAP0.25","l":5,"v":0.0155},{"p":"g","s":"IAP1-IAP0.25","l":6,"v":0.0125},{"p":"g","s":"IAP1-IAP0.25","l":7,"v":0.011},{"p":"g","s":"IAP1-IAP0.25","l":8,"v":0.0096},{"p":"g","s":"IAP1-IAP0.25","l":10,"v":0.0082},{"p":"g","s":"IAP1-IAP0.25","l":12,"v":0.0076},{"p":"g","s":"IAP1-IAP0.25","l":14,"v":0.007},{"p":"g","s":"IAP1-IAP0.25","l":16,"v":0.0067},{"p":"g","s":"IAP1-IAP0.25","l":18,"v":0.0067},{"p":"g","s":"IAP1-IAP0.25","l":20,"v":0.007},{"p":"g","s":"IAP1-IAP0.25","l":22,"v":0.0073},{"p":"g","s":"IAP1-IAP0.25","l":24,"v":0.0067},{"p":"g","s":"IAP1-IAP0.25","l":26,"v":0.0061},{"p":"g","s":"IAP1-IAP0.25","l":28,"v":0.0047},{"p":"g","s":"IAP1-IAP0.25","l":30,"v":0.0038},{"p":"g","s":"IAP1-IAP0.25","l":32,"v":0.0026},{"p":"g","s":"IAP1-IAP0.25","l":34,"v":0.002},{"p":"g","s":"IAP1-IAP0.25","l":37,"v":0.0017},{"p":"g","s":"IAP1-IAP0.25","l":41,"v":0.0015},
{"p":"g","s":"ARM-IAP0.25","l":1,"v":0.1787},{"p":"g","s":"ARM-IAP0.25","l":2,"v":0.1496},{"p":"g","s":"ARM-IAP0.25","l":3,"v":0.103},{"p":"g","s":"ARM-IAP0.25","l":4,"v":0.0446},{"p":"g","s":"ARM-IAP0.25","l":5,"v":0.027},{"p":"g","s":"ARM-IAP0.25","l":6,"v":0.0236},{"p":"g","s":"ARM-IAP0.25","l":7,"v":0.0198},{"p":"g","s":"ARM-IAP0.25","l":8,"v":0.0169},{"p":"g","s":"ARM-IAP0.25","l":9,"v":0.014},{"p":"g","s":"ARM-IAP0.25","l":10,"v":0.012},{"p":"g","s":"ARM-IAP0.25","l":11,"v":0.0096},{"p":"g","s":"ARM-IAP0.25","l":12,"v":0.0082},{"p":"g","s":"ARM-IAP0.25","l":13,"v":0.0067},{"p":"g","s":"ARM-IAP0.25","l":14,"v":0.0061},{"p":"g","s":"ARM-IAP0.25","l":15,"v":0.0044},{"p":"g","s":"ARM-IAP0.25","l":16,"v":0.0038},{"p":"g","s":"ARM-IAP0.25","l":17,"v":0.0044},{"p":"g","s":"ARM-IAP0.25","l":18,"v":0.0052},{"p":"g","s":"ARM-IAP0.25","l":20,"v":0.0061},{"p":"g","s":"ARM-IAP0.25","l":22,"v":0.0052},{"p":"g","s":"ARM-IAP0.25","l":24,"v":0.0044},{"p":"g","s":"ARM-IAP0.25","l":26,"v":0.0032},{"p":"g","s":"ARM-IAP0.25","l":28,"v":0.0017},{"p":"g","s":"ARM-IAP0.25","l":30,"v":0.0003},{"p":"g","s":"ARM-IAP0.25","l":31,"v":-0.0012},{"p":"g","s":"ARM-IAP0.25","l":32,"v":-0.002},{"p":"g","s":"ARM-IAP0.25","l":33,"v":-0.0015},{"p":"g","s":"ARM-IAP0.25","l":35,"v":-0.0006},{"p":"g","s":"ARM-IAP0.25","l":37,"v":-0.0003},{"p":"g","s":"ARM-IAP0.25","l":39,"v":0.0003},{"p":"g","s":"ARM-IAP0.25","l":41,"v":0.0015},
{"p":"g","s":"EN4-IAP0.25","l":1,"v":0.1787},{"p":"g","s":"EN4-IAP0.25","l":2,"v":0.1496},{"p":"g","s":"EN4-IAP0.25","l":3,"v":0.103},{"p":"g","s":"EN4-IAP0.25","l":4,"v":0.0446},{"p":"g","s":"EN4-IAP0.25","l":5,"v":0.03},{"p":"g","s":"EN4-IAP0.25","l":6,"v":0.0257},{"p":"g","s":"EN4-IAP0.25","l":7,"v":0.0242},{"p":"g","s":"EN4-IAP0.25","l":8,"v":0.0236},{"p":"g","s":"EN4-IAP0.25","l":9,"v":0.0227},{"p":"g","s":"EN4-IAP0.25","l":10,"v":0.0207},{"p":"g","s":"EN4-IAP0.25","l":11,"v":0.0178},{"p":"g","s":"EN4-IAP0.25","l":12,"v":0.016},{"p":"g","s":"EN4-IAP0.25","l":13,"v":0.0155},{"p":"g","s":"EN4-IAP0.25","l":14,"v":0.0096},{"p":"g","s":"EN4-IAP0.25","l":15,"v":0.009},{"p":"g","s":"EN4-IAP0.25","l":16,"v":0.009},{"p":"g","s":"EN4-IAP0.25","l":17,"v":0.0096},{"p":"g","s":"EN4-IAP0.25","l":18,"v":0.0108},{"p":"g","s":"EN4-IAP0.25","l":19,"v":0.012},{"p":"g","s":"EN4-IAP0.25","l":20,"v":0.0114},{"p":"g","s":"EN4-IAP0.25","l":21,"v":0.0108},{"p":"g","s":"EN4-IAP0.25","l":22,"v":0.0102},{"p":"g","s":"EN4-IAP0.25","l":24,"v":0.0085},{"p":"g","s":"EN4-IAP0.25","l":26,"v":0.0061},{"p":"g","s":"EN4-IAP0.25","l":28,"v":0.0044},{"p":"g","s":"EN4-IAP0.25","l":30,"v":0.0026},{"p":"g","s":"EN4-IAP0.25","l":32,"v":0.0009},{"p":"g","s":"EN4-IAP0.25","l":34,"v":0.0006},{"p":"g","s":"EN4-IAP0.25","l":36,"v":0.0009},{"p":"g","s":"EN4-IAP0.25","l":38,"v":0.0015},{"p":"g","s":"EN4-IAP0.25","l":41,"v":0.0017},

{"p":"h","s":"IAP1-IAP0.25","l":1,"v":0.0057},{"p":"h","s":"IAP1-IAP0.25","l":2,"v":0.0079},{"p":"h","s":"IAP1-IAP0.25","l":3,"v":0.0081},{"p":"h","s":"IAP1-IAP0.25","l":4,"v":0.0079},{"p":"h","s":"IAP1-IAP0.25","l":5,"v":0.007},{"p":"h","s":"IAP1-IAP0.25","l":6,"v":0.0061},{"p":"h","s":"IAP1-IAP0.25","l":7,"v":0.0054},{"p":"h","s":"IAP1-IAP0.25","l":8,"v":0.0053},{"p":"h","s":"IAP1-IAP0.25","l":10,"v":0.0053},{"p":"h","s":"IAP1-IAP0.25","l":12,"v":0.0055},{"p":"h","s":"IAP1-IAP0.25","l":14,"v":0.0055},{"p":"h","s":"IAP1-IAP0.25","l":16,"v":0.0053},{"p":"h","s":"IAP1-IAP0.25","l":17,"v":0.0053},{"p":"h","s":"IAP1-IAP0.25","l":18,"v":0.0055},{"p":"h","s":"IAP1-IAP0.25","l":19,"v":0.0058},{"p":"h","s":"IAP1-IAP0.25","l":20,"v":0.0061},{"p":"h","s":"IAP1-IAP0.25","l":21,"v":0.0063},{"p":"h","s":"IAP1-IAP0.25","l":22,"v":0.006},{"p":"h","s":"IAP1-IAP0.25","l":23,"v":0.0055},{"p":"h","s":"IAP1-IAP0.25","l":24,"v":0.0048},{"p":"h","s":"IAP1-IAP0.25","l":25,"v":0.0043},{"p":"h","s":"IAP1-IAP0.25","l":26,"v":0.004},{"p":"h","s":"IAP1-IAP0.25","l":27,"v":0.0037},{"p":"h","s":"IAP1-IAP0.25","l":28,"v":0.0033},{"p":"h","s":"IAP1-IAP0.25","l":29,"v":0.0031},{"p":"h","s":"IAP1-IAP0.25","l":30,"v":0.0028},{"p":"h","s":"IAP1-IAP0.25","l":31,"v":0.002},{"p":"h","s":"IAP1-IAP0.25","l":32,"v":0.0012},{"p":"h","s":"IAP1-IAP0.25","l":33,"v":0.0005},{"p":"h","s":"IAP1-IAP0.25","l":35,"v":0.0004},{"p":"h","s":"IAP1-IAP0.25","l":37,"v":0.0003},{"p":"h","s":"IAP1-IAP0.25","l":41,"v":0.0003},
{"p":"h","s":"ARM-IAP0.25","l":1,"v":0.022},{"p":"h","s":"ARM-IAP0.25","l":2,"v":0.0231},{"p":"h","s":"ARM-IAP0.25","l":3,"v":0.021},{"p":"h","s":"ARM-IAP0.25","l":4,"v":0.0183},{"p":"h","s":"ARM-IAP0.25","l":5,"v":0.0136},{"p":"h","s":"ARM-IAP0.25","l":6,"v":0.0099},{"p":"h","s":"ARM-IAP0.25","l":7,"v":0.0084},{"p":"h","s":"ARM-IAP0.25","l":8,"v":0.0078},{"p":"h","s":"ARM-IAP0.25","l":9,"v":0.0068},{"p":"h","s":"ARM-IAP0.25","l":10,"v":0.0063},{"p":"h","s":"ARM-IAP0.25","l":11,"v":0.0058},{"p":"h","s":"ARM-IAP0.25","l":12,"v":0.0054},{"p":"h","s":"ARM-IAP0.25","l":13,"v":0.0049},{"p":"h","s":"ARM-IAP0.25","l":14,"v":0.0044},{"p":"h","s":"ARM-IAP0.25","l":15,"v":0.004},{"p":"h","s":"ARM-IAP0.25","l":16,"v":0.0038},{"p":"h","s":"ARM-IAP0.25","l":17,"v":0.0039},{"p":"h","s":"ARM-IAP0.25","l":18,"v":0.004},{"p":"h","s":"ARM-IAP0.25","l":19,"v":0.0042},{"p":"h","s":"ARM-IAP0.25","l":20,"v":0.0043},{"p":"h","s":"ARM-IAP0.25","l":21,"v":0.0043},{"p":"h","s":"ARM-IAP0.25","l":22,"v":0.0038},{"p":"h","s":"ARM-IAP0.25","l":23,"v":0.0027},{"p":"h","s":"ARM-IAP0.25","l":24,"v":0.0018},{"p":"h","s":"ARM-IAP0.25","l":25,"v":0.001},{"p":"h","s":"ARM-IAP0.25","l":26,"v":0.0007},{"p":"h","s":"ARM-IAP0.25","l":27,"v":0.0005},{"p":"h","s":"ARM-IAP0.25","l":28,"v":0.0003},{"p":"h","s":"ARM-IAP0.25","l":29,"v":0.0},{"p":"h","s":"ARM-IAP0.25","l":30,"v":-0.0003},{"p":"h","s":"ARM-IAP0.25","l":31,"v":-0.0008},{"p":"h","s":"ARM-IAP0.25","l":32,"v":-0.001},{"p":"h","s":"ARM-IAP0.25","l":33,"v":-0.001},{"p":"h","s":"ARM-IAP0.25","l":34,"v":-0.0008},{"p":"h","s":"ARM-IAP0.25","l":35,"v":-0.0004},{"p":"h","s":"ARM-IAP0.25","l":36,"v":-0.0001},{"p":"h","s":"ARM-IAP0.25","l":37,"v":0.0},{"p":"h","s":"ARM-IAP0.25","l":38,"v":-0.0009},{"p":"h","s":"ARM-IAP0.25","l":39,"v":-0.0004},{"p":"h","s":"ARM-IAP0.25","l":40,"v":0.0001},{"p":"h","s":"ARM-IAP0.25","l":41,"v":0.0003},
{"p":"h","s":"EN4-IAP0.25","l":1,"v":0.029},{"p":"h","s":"EN4-IAP0.25","l":2,"v":0.0288},{"p":"h","s":"EN4-IAP0.25","l":3,"v":0.0262},{"p":"h","s":"EN4-IAP0.25","l":4,"v":0.0223},{"p":"h","s":"EN4-IAP0.25","l":5,"v":0.0186},{"p":"h","s":"EN4-IAP0.25","l":6,"v":0.0162},{"p":"h","s":"EN4-IAP0.25","l":7,"v":0.0157},{"p":"h","s":"EN4-IAP0.25","l":8,"v":0.015},{"p":"h","s":"EN4-IAP0.25","l":9,"v":0.014},{"p":"h","s":"EN4-IAP0.25","l":10,"v":0.013},{"p":"h","s":"EN4-IAP0.25","l":11,"v":0.0125},{"p":"h","s":"EN4-IAP0.25","l":12,"v":0.0128},{"p":"h","s":"EN4-IAP0.25","l":13,"v":0.0131},{"p":"h","s":"EN4-IAP0.25","l":14,"v":0.0133},{"p":"h","s":"EN4-IAP0.25","l":15,"v":0.013},{"p":"h","s":"EN4-IAP0.25","l":16,"v":0.0125},{"p":"h","s":"EN4-IAP0.25","l":17,"v":0.0116},{"p":"h","s":"EN4-IAP0.25","l":18,"v":0.0105},{"p":"h","s":"EN4-IAP0.25","l":19,"v":0.0103},{"p":"h","s":"EN4-IAP0.25","l":20,"v":0.0102},{"p":"h","s":"EN4-IAP0.25","l":21,"v":0.0098},{"p":"h","s":"EN4-IAP0.25","l":22,"v":0.0088},{"p":"h","s":"EN4-IAP0.25","l":23,"v":0.0077},{"p":"h","s":"EN4-IAP0.25","l":24,"v":0.0057},{"p":"h","s":"EN4-IAP0.25","l":25,"v":0.0047},{"p":"h","s":"EN4-IAP0.25","l":26,"v":0.0038},{"p":"h","s":"EN4-IAP0.25","l":27,"v":0.0033},{"p":"h","s":"EN4-IAP0.25","l":28,"v":0.0029},{"p":"h","s":"EN4-IAP0.25","l":29,"v":0.0026},{"p":"h","s":"EN4-IAP0.25","l":30,"v":0.0023},{"p":"h","s":"EN4-IAP0.25","l":31,"v":0.0022},{"p":"h","s":"EN4-IAP0.25","l":32,"v":0.002},{"p":"h","s":"EN4-IAP0.25","l":33,"v":0.0019},{"p":"h","s":"EN4-IAP0.25","l":34,"v":0.0016},{"p":"h","s":"EN4-IAP0.25","l":35,"v":0.0014},{"p":"h","s":"EN4-IAP0.25","l":36,"v":0.0013},{"p":"h","s":"EN4-IAP0.25","l":37,"v":0.0012},{"p":"h","s":"EN4-IAP0.25","l":38,"v":0.0011},{"p":"h","s":"EN4-IAP0.25","l":39,"v":0.001},{"p":"h","s":"EN4-IAP0.25","l":40,"v":0.0009},{"p":"h","s":"EN4-IAP0.25","l":41,"v":0.0003}
]},
"columns": 4,
"spacing": {"row": 59, "column": 39.3},
"bounds": "flush",
"resolve": {"scale": {"x": "independent", "y": "independent", "color": "independent"}, "legend": {"color": "independent"}},
"concat": [
{"width": 232, "height": 265, "title": "(a) Global", "transform": [{"filter": "datum.p=='a'"}],
 "layer": [
  {"mark": {"type": "line", "strokeWidth": 1.2, "clip": true},
   "encoding": {
    "x": {"field": "v", "type": "quantitative", "scale": {"domain": [0, 0.6], "nice": false, "zero": false}, "axis": {"values": [0, 0.2, 0.4, 0.6], "format": "~g", "title": null}},
    "y": {"field": "l", "type": "quantitative", "scale": {"domain": [1, 41], "reverse": true, "nice": false, "zero": false}, "axis": {"values": [2, 7, 12, 17, 22, 27, 32, 37], "labelExpr": "['5','50','100','200','450','700','1000','1500'][(datum.value-2)/5]", "title": "Depth (m)"}},
    "color": {"field": "s", "type": "nominal", "scale": {"domain": ["IAP0.25", "IAP1", "ARM", "EN4"], "range": ["#ff0000", "#0000ff", "#00ff00", "#000000"]}, "legend": {"orient": "none", "legendX": 139.5, "legendY": 177.5, "title": null, "symbolType": "M-1.5,0L1.5,0", "symbolSize": 361, "symbolStrokeWidth": 1.5, "labelFont": "Liberation Serif", "labelFontSize": 16, "labelColor": "#000000", "labelOffset": 7, "rowPadding": 0.8, "padding": 0}},
    "order": {"field": "l", "type": "quantitative"}}},
  {"transform": [{"filter": "datum.l==1"}], "mark": {"type": "point", "opacity": 0},
   "encoding": {
    "x": {"field": "v", "type": "quantitative", "axis": {"orient": "top", "labels": false, "title": null, "values": [0, 0.2, 0.4, 0.6]}},
    "y": {"field": "l", "type": "quantitative", "axis": {"orient": "right", "labels": false, "title": null, "values": [2, 7, 12, 17, 22, 27, 32, 37]}}}}
 ],
 "resolve": {"axis": {"x": "independent", "y": "independent"}}},
{"width": 232, "height": 265, "title": "(b) Pacific Ocean", "transform": [{"filter": "datum.p=='b'"}],
 "layer": [
  {"mark": {"type": "line", "strokeWidth": 1.2, "clip": true},
   "encoding": {
    "x": {"field": "v", "type": "quantitative", "scale": {"domain": [0, 0.3], "nice": false, "zero": false}, "axis": {"values": [0, 0.1, 0.2, 0.3], "format": "~g", "title": null}},
    "y": {"field": "l", "type": "quantitative", "scale": {"domain": [1, 41], "reverse": true, "nice": false, "zero": false}, "axis": {"values": [2, 7, 12, 17, 22, 27, 32, 37], "labels": false, "title": null}},
    "color": {"field": "s", "type": "nominal", "scale": {"domain": ["IAP0.25", "IAP1", "ARM", "EN4"], "range": ["#ff0000", "#0000ff", "#00ff00", "#000000"]}, "legend": null},
    "order": {"field": "l", "type": "quantitative"}}},
  {"transform": [{"filter": "datum.l==1"}], "mark": {"type": "point", "opacity": 0},
   "encoding": {
    "x": {"field": "v", "type": "quantitative", "axis": {"orient": "top", "labels": false, "title": null, "values": [0, 0.1, 0.2, 0.3]}},
    "y": {"field": "l", "type": "quantitative", "axis": {"orient": "right", "labels": false, "title": null, "values": [2, 7, 12, 17, 22, 27, 32, 37]}}}}
 ],
 "resolve": {"axis": {"x": "independent", "y": "independent"}}},
{"width": 232, "height": 265, "title": "(c) Atlantic Ocean", "transform": [{"filter": "datum.p=='c'"}],
 "layer": [
  {"mark": {"type": "line", "strokeWidth": 1.2, "clip": true},
   "encoding": {
    "x": {"field": "v", "type": "quantitative", "scale": {"domain": [0, 0.638], "nice": false, "zero": false}, "axis": {"values": [0, 0.2, 0.4, 0.6], "format": "~g", "title": null}},
    "y": {"field": "l", "type": "quantitative", "scale": {"domain": [1, 41], "reverse": true, "nice": false, "zero": false}, "axis": {"values": [2, 7, 12, 17, 22, 27, 32, 37], "labels": false, "title": null}},
    "color": {"field": "s", "type": "nominal", "scale": {"domain": ["IAP0.25", "IAP1", "ARM", "EN4"], "range": ["#ff0000", "#0000ff", "#00ff00", "#000000"]}, "legend": null},
    "order": {"field": "l", "type": "quantitative"}}},
  {"transform": [{"filter": "datum.l==1"}], "mark": {"type": "point", "opacity": 0},
   "encoding": {
    "x": {"field": "v", "type": "quantitative", "axis": {"orient": "top", "labels": false, "title": null, "values": [0, 0.2, 0.4, 0.6]}},
    "y": {"field": "l", "type": "quantitative", "axis": {"orient": "right", "labels": false, "title": null, "values": [2, 7, 12, 17, 22, 27, 32, 37]}}}}
 ],
 "resolve": {"axis": {"x": "independent", "y": "independent"}}},
{"width": 232, "height": 265, "title": "(d) Indian Ocean", "transform": [{"filter": "datum.p=='d'"}],
 "layer": [
  {"mark": {"type": "line", "strokeWidth": 1.2, "clip": true},
   "encoding": {
    "x": {"field": "v", "type": "quantitative", "scale": {"domain": [0, 0.3], "nice": false, "zero": false}, "axis": {"values": [0, 0.1, 0.2, 0.3], "format": "~g", "title": null}},
    "y": {"field": "l", "type": "quantitative", "scale": {"domain": [1, 41], "reverse": true, "nice": false, "zero": false}, "axis": {"values": [2, 7, 12, 17, 22, 27, 32, 37], "labels": false, "title": null}},
    "color": {"field": "s", "type": "nominal", "scale": {"domain": ["IAP0.25", "IAP1", "ARM", "EN4"], "range": ["#ff0000", "#0000ff", "#00ff00", "#000000"]}, "legend": null},
    "order": {"field": "l", "type": "quantitative"}}},
  {"transform": [{"filter": "datum.l==1"}], "mark": {"type": "point", "opacity": 0},
   "encoding": {
    "x": {"field": "v", "type": "quantitative", "axis": {"orient": "top", "labels": false, "title": null, "values": [0, 0.1, 0.2, 0.3]}},
    "y": {"field": "l", "type": "quantitative", "axis": {"orient": "right", "labels": false, "title": null, "values": [2, 7, 12, 17, 22, 27, 32, 37]}}}}
 ],
 "resolve": {"axis": {"x": "independent", "y": "independent"}}},
{"width": 232, "height": 265, "title": "(e) Global", "transform": [{"filter": "datum.p=='e'"}],
 "layer": [
  {"mark": {"type": "line", "strokeWidth": 1.2, "clip": true},
   "encoding": {
    "x": {"field": "v", "type": "quantitative", "scale": {"domain": [0, 0.2], "nice": false, "zero": false}, "axis": {"values": [0, 0.05, 0.1, 0.15, 0.2], "format": "~g", "title": "RMSE (psu)"}},
    "y": {"field": "l", "type": "quantitative", "scale": {"domain": [1, 41], "reverse": true, "nice": false, "zero": false}, "axis": {"values": [2, 7, 12, 17, 22, 27, 32, 37], "labelExpr": "['5','50','100','200','450','700','1000','1500'][(datum.value-2)/5]", "title": "Depth (m)"}},
    "color": {"field": "s", "type": "nominal", "scale": {"domain": ["IAP1-IAP0.25", "ARM-IAP0.25", "EN4-IAP0.25"], "range": ["#0000ff", "#00ff00", "#000000"]}, "legend": {"orient": "none", "legendX": 98.5, "legendY": 198.5, "title": null, "symbolType": "M-1.6,0L1.6,0", "symbolSize": 361, "symbolStrokeWidth": 1.5, "labelFont": "Liberation Serif", "labelFontSize": 16, "labelColor": "#000000", "labelOffset": 7, "rowPadding": 0, "padding": 0}},
    "order": {"field": "l", "type": "quantitative"}}},
  {"transform": [{"filter": "datum.l==1"}], "mark": {"type": "point", "opacity": 0},
   "encoding": {
    "x": {"field": "v", "type": "quantitative", "axis": {"orient": "top", "labels": false, "title": null, "values": [0, 0.05, 0.1, 0.15, 0.2]}},
    "y": {"field": "l", "type": "quantitative", "axis": {"orient": "right", "labels": false, "title": null, "values": [2, 7, 12, 17, 22, 27, 32, 37]}}}}
 ],
 "resolve": {"axis": {"x": "independent", "y": "independent"}}},
{"width": 232, "height": 265, "title": "(f) Pacific Ocean", "transform": [{"filter": "datum.p=='f'"}],
 "layer": [
  {"mark": {"type": "line", "strokeWidth": 1.2, "clip": true},
   "encoding": {
    "x": {"field": "v", "type": "quantitative", "scale": {"domain": [-0.00085, 0.0287], "nice": false, "zero": false}, "axis": {"values": [0, 0.01, 0.02], "format": "~g", "title": "RMSE (psu)"}},
    "y": {"field": "l", "type": "quantitative", "scale": {"domain": [1, 41], "reverse": true, "nice": false, "zero": false}, "axis": {"values": [2, 7, 12, 17, 22, 27, 32, 37], "labels": false, "title": null}},
    "color": {"field": "s", "type": "nominal", "scale": {"domain": ["IAP1-IAP0.25", "ARM-IAP0.25", "EN4-IAP0.25"], "range": ["#0000ff", "#00ff00", "#000000"]}, "legend": null},
    "order": {"field": "l", "type": "quantitative"}}},
  {"transform": [{"filter": "datum.l==1"}], "mark": {"type": "point", "opacity": 0},
   "encoding": {
    "x": {"field": "v", "type": "quantitative", "axis": {"orient": "top", "labels": false, "title": null, "values": [0, 0.01, 0.02]}},
    "y": {"field": "l", "type": "quantitative", "axis": {"orient": "right", "labels": false, "title": null, "values": [2, 7, 12, 17, 22, 27, 32, 37]}}}}
 ],
 "resolve": {"axis": {"x": "independent", "y": "independent"}}},
{"width": 232, "height": 265, "title": "(g) Atlantic Ocean", "transform": [{"filter": "datum.p=='g'"}],
 "layer": [
  {"mark": {"type": "line", "strokeWidth": 1.2, "clip": true},
   "encoding": {
    "x": {"field": "v", "type": "quantitative", "scale": {"domain": [-0.002, 0.2], "nice": false, "zero": false}, "axis": {"values": [0, 0.05, 0.1, 0.15, 0.2], "format": "~g", "title": "RMSE (psu)"}},
    "y": {"field": "l", "type": "quantitative", "scale": {"domain": [1, 41], "reverse": true, "nice": false, "zero": false}, "axis": {"values": [2, 7, 12, 17, 22, 27, 32, 37], "labels": false, "title": null}},
    "color": {"field": "s", "type": "nominal", "scale": {"domain": ["IAP1-IAP0.25", "ARM-IAP0.25", "EN4-IAP0.25"], "range": ["#0000ff", "#00ff00", "#000000"]}, "legend": null},
    "order": {"field": "l", "type": "quantitative"}}},
  {"transform": [{"filter": "datum.l==1"}], "mark": {"type": "point", "opacity": 0},
   "encoding": {
    "x": {"field": "v", "type": "quantitative", "axis": {"orient": "top", "labels": false, "title": null, "values": [0, 0.05, 0.1, 0.15, 0.2]}},
    "y": {"field": "l", "type": "quantitative", "axis": {"orient": "right", "labels": false, "title": null, "values": [2, 7, 12, 17, 22, 27, 32, 37]}}}}
 ],
 "resolve": {"axis": {"x": "independent", "y": "independent"}}},
{"width": 232, "height": 265, "title": "(h) Indian Ocean", "transform": [{"filter": "datum.p=='h'"}],
 "layer": [
  {"mark": {"type": "line", "strokeWidth": 1.2, "clip": true},
   "encoding": {
    "x": {"field": "v", "type": "quantitative", "scale": {"domain": [-0.0011, 0.0292], "nice": false, "zero": false}, "axis": {"values": [0, 0.01, 0.02], "format": "~g", "title": "RMSE (psu)"}},
    "y": {"field": "l", "type": "quantitative", "scale": {"domain": [1, 41], "reverse": true, "nice": false, "zero": false}, "axis": {"values": [2, 7, 12, 17, 22, 27, 32, 37], "labels": false, "title": null}},
    "color": {"field": "s", "type": "nominal", "scale": {"domain": ["IAP1-IAP0.25", "ARM-IAP0.25", "EN4-IAP0.25"], "range": ["#0000ff", "#00ff00", "#000000"]}, "legend": null},
    "order": {"field": "l", "type": "quantitative"}}},
  {"transform": [{"filter": "datum.l==1"}], "mark": {"type": "point", "opacity": 0},
   "encoding": {
    "x": {"field": "v", "type": "quantitative", "axis": {"orient": "top", "labels": false, "title": null, "values": [0, 0.01, 0.02]}},
    "y": {"field": "l", "type": "quantitative", "axis": {"orient": "right", "labels": false, "title": null, "values": [2, 7, 12, 17, 22, 27, 32, 37]}}}}
 ],
 "resolve": {"axis": {"x": "independent", "y": "independent"}}}
],
"config": {
 "view": {"stroke": "#8c8c8c", "strokeWidth": 1},
 "font": "Liberation Serif",
 "axis": {"grid": false, "domain": false, "ticks": true, "tickColor": "#8c8c8c", "tickSize": -5, "tickWidth": 1, "labelFlush": false, "labelFont": "Liberation Sans", "labelFontSize": 20, "labelColor": "#262626", "titleFont": "Liberation Serif", "titleFontSize": 24, "titleFontWeight": "normal", "titleColor": "#262626"},
 "axisX": {"labelPadding": 12, "titlePadding": 2},
 "axisY": {"labelPadding": 11, "titlePadding": 3},
 "title": {"font": "Liberation Serif", "fontSize": 22, "fontWeight": "normal", "color": "#000000", "offset": -1.5}
}
}
